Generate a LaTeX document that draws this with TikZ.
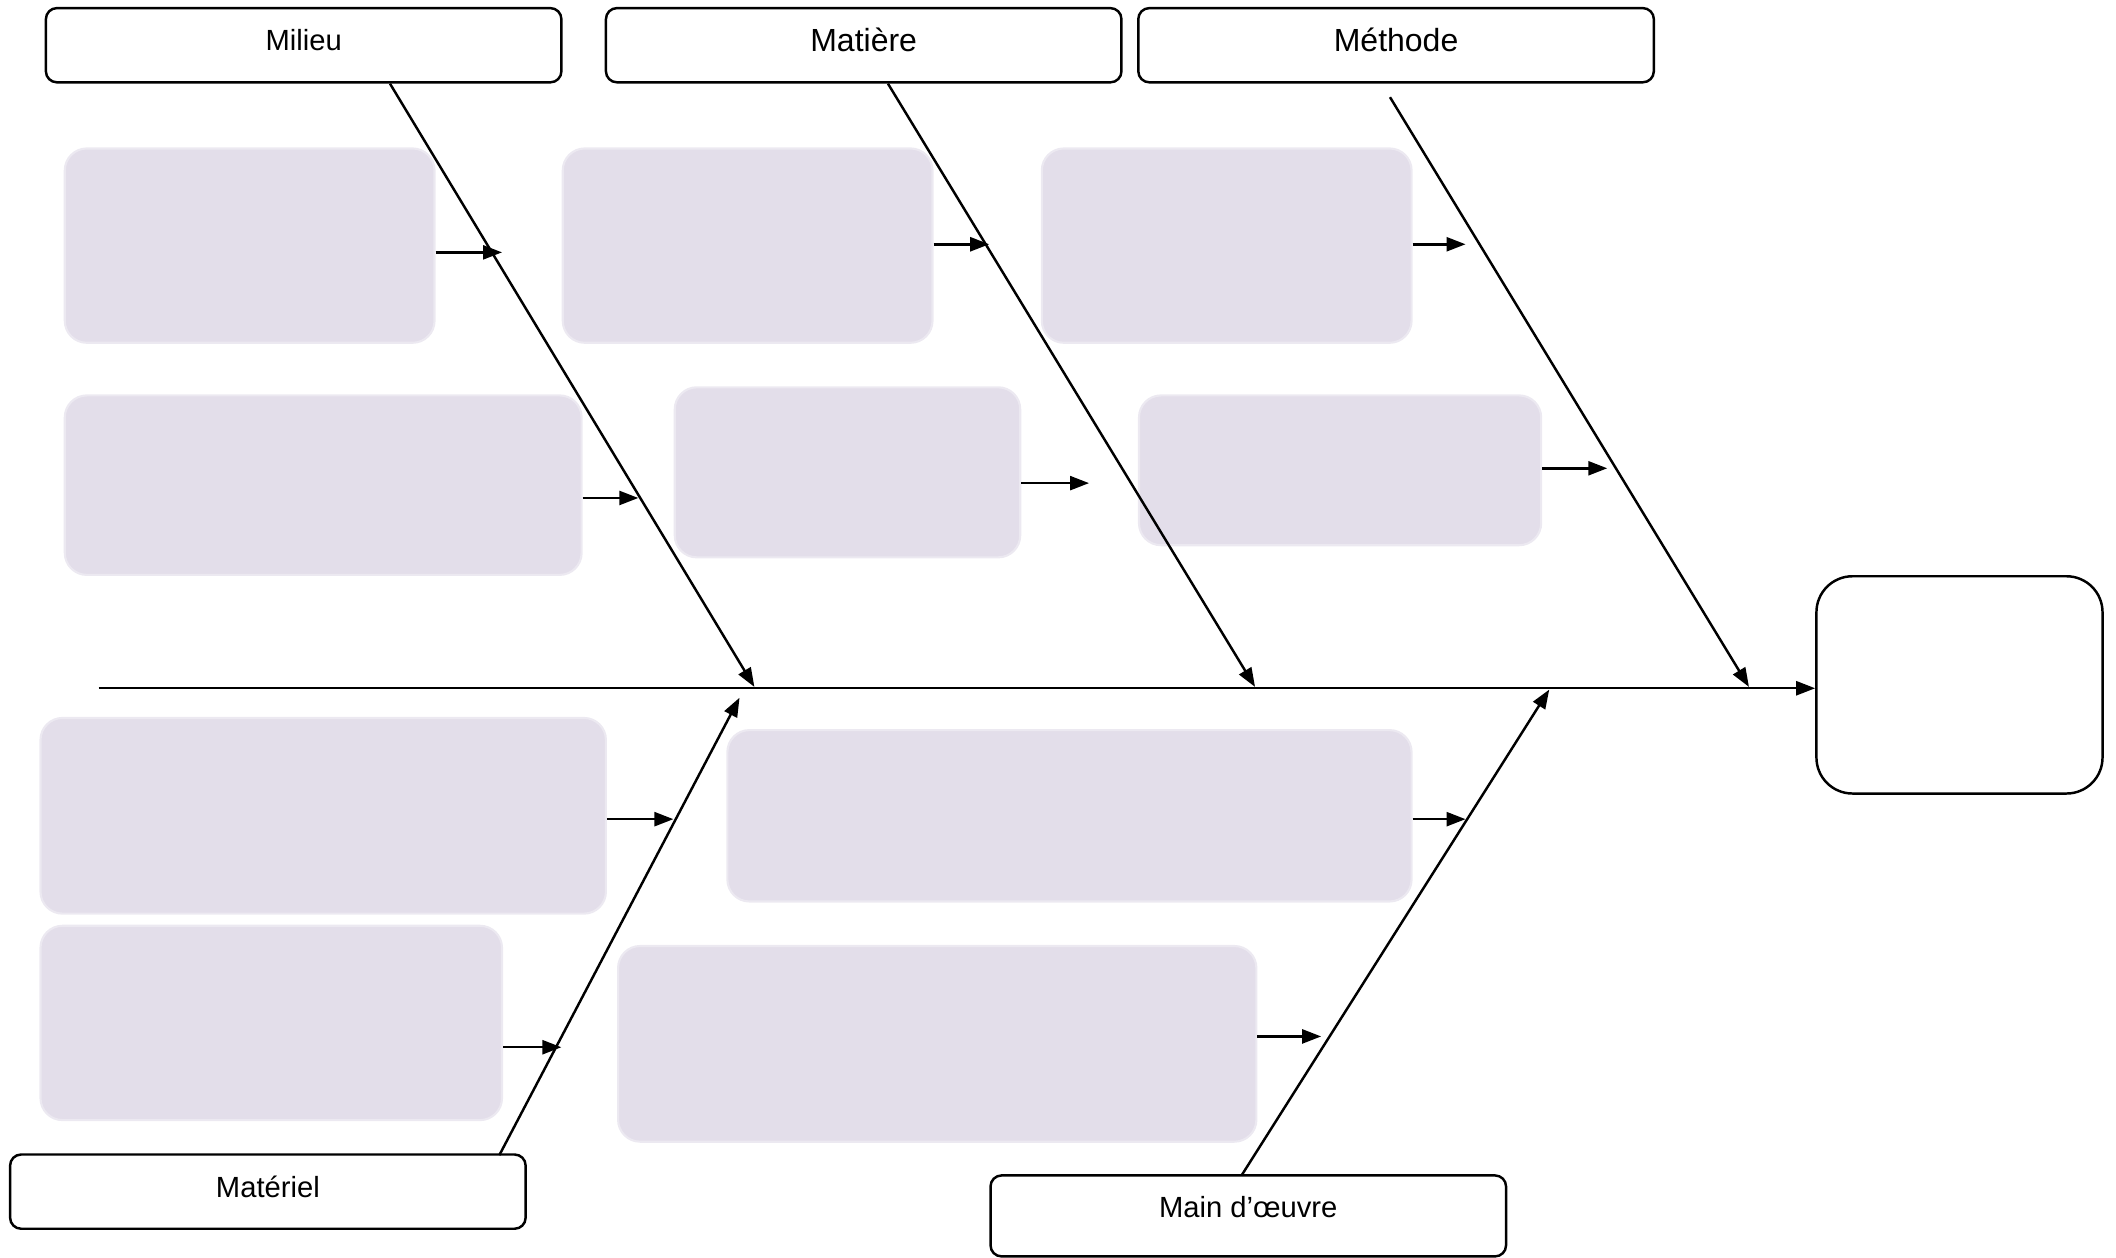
\documentclass[tikz,border=0pt]{standalone}
\usepackage{fontspec}
\setmainfont{Liberation Sans}
\usepackage{tikz}
\usetikzlibrary{positioning, fit, arrows.meta}
\definecolor{causefill}{RGB}{227,222,234}
\definecolor{causeedge}{RGB}{236,233,241}
\tikzset{
	labelbox/.style={draw=black, line width=0.7pt, rounded corners=1.1mm, inner sep=0pt,
		minimum width=382*0.1349mm, minimum height=55*0.1349mm,
		text height=2.1mm, text depth=1mm, font=\fontsize{8.3}{10}\selectfont}
}
\tikzset{
	bigtext/.style={text height=2.3mm, text depth=1mm, font=\fontsize{9.1}{11}\selectfont}
}

\begin{document}
\begin{tikzpicture}[x=0.1349mm, y=-0.1349mm]

\tikzset{
    causebox/.style={
        fill=causefill,
        draw=causeedge,
        line width=0.6pt,
        rounded corners=2.2mm,
        inner sep=0pt
    },
    arr/.style={
        line width=0.7pt,
        -{Triangle[length=1.9mm,width=1.4mm]}
    }
}

\useasboundingbox (0,0) rectangle (1568,932);

\node[labelbox] (milieu) at (225,33.5) {Milieu};
\node[labelbox, bigtext] (matiere) at (640,33.5) {Matière};
\node[labelbox, bigtext] (methode) at (1034.5,33.5) {Méthode};
\node[labelbox] (materiel) at (198.5,883) {Matériel};
\node[labelbox, minimum height=60*0.1349mm, text depth=1.8mm] (main) at (925,901) {Main d’œuvre};
\node[draw=black, line width=0.7pt, rounded corners=3.6mm, inner sep=0pt, fit={(1346,427) (1558,588)}] (effet) {};

\node[causebox, fit={(48,110) (322,254)}] (mil1) {};
\node[causebox, fit={(48,293) (431,426)}] (mil2) {};
\node[causebox, fit={(417,110) (691,254)}] (mat1) {};
\node[causebox, fit={(500,287) (756,413)}] (mat2) {};
\node[causebox, fit={(772,110) (1046,254)}] (met1) {};
\node[causebox, fit={(844,293) (1142,404)}] (met2) {};
\node[causebox, fit={(30,532) (449,677)}] (mtl1) {};
\node[causebox, fit={(30,686) (372,830)}] (mtl2) {};
\node[causebox, fit={(539,541) (1046,668)}] (mo1) {};
\node[causebox, fit={(458,701) (931,846)}] (mo2) {};

\coordinate (queue) at (73,510);
\coordinate (milieutop) at (289,62);
\coordinate (milieutip) at (559,509);
\coordinate (matieretop) at (658,62);
\coordinate (matieretip) at (930,509);
\coordinate (methodetop) at (1030,72);
\coordinate (methodetip) at (1296,509);
\coordinate (materielbot) at (370,856);
\coordinate (materieltip) at (548,517);
\coordinate (mainbot) at (920,871);
\coordinate (maintip) at (1148,511);

\draw[arr] (queue) -- (queue -| effet.west);
\draw[arr] (milieutop) -- (milieutip);
\draw[arr] (matieretop) -- (matieretip);
\draw[arr] (methodetop) -- (methodetip);
\draw[arr] (materielbot) -- (materieltip);
\draw[arr] (mainbot) -- (maintip);

\coordinate (a1) at (372,187);
\coordinate (a2) at (473,369);
\coordinate (a3) at (733,181);
\coordinate (a4) at (807,358);
\coordinate (a5) at (1086,181);
\coordinate (a6) at (1191,347);
\coordinate (a7) at (499,607);
\coordinate (a8) at (416,776);
\coordinate (a9) at (1086,607);
\coordinate (a10) at (979,768);

\draw[arr] (mil1.east |- a1) -- (a1);
\draw[arr] (mil2.east |- a2) -- (a2);
\draw[arr] (mat1.east |- a3) -- (a3);
\draw[arr] (mat2.east |- a4) -- (a4);
\draw[arr] (met1.east |- a5) -- (a5);
\draw[arr] (met2.east |- a6) -- (a6);
\draw[arr] (mtl1.east |- a7) -- (a7);
\draw[arr] (mtl2.east |- a8) -- (a8);
\draw[arr] (mo1.east |- a9) -- (a9);
\draw[arr] (mo2.east |- a10) -- (a10);
\end{tikzpicture}
\end{document}
